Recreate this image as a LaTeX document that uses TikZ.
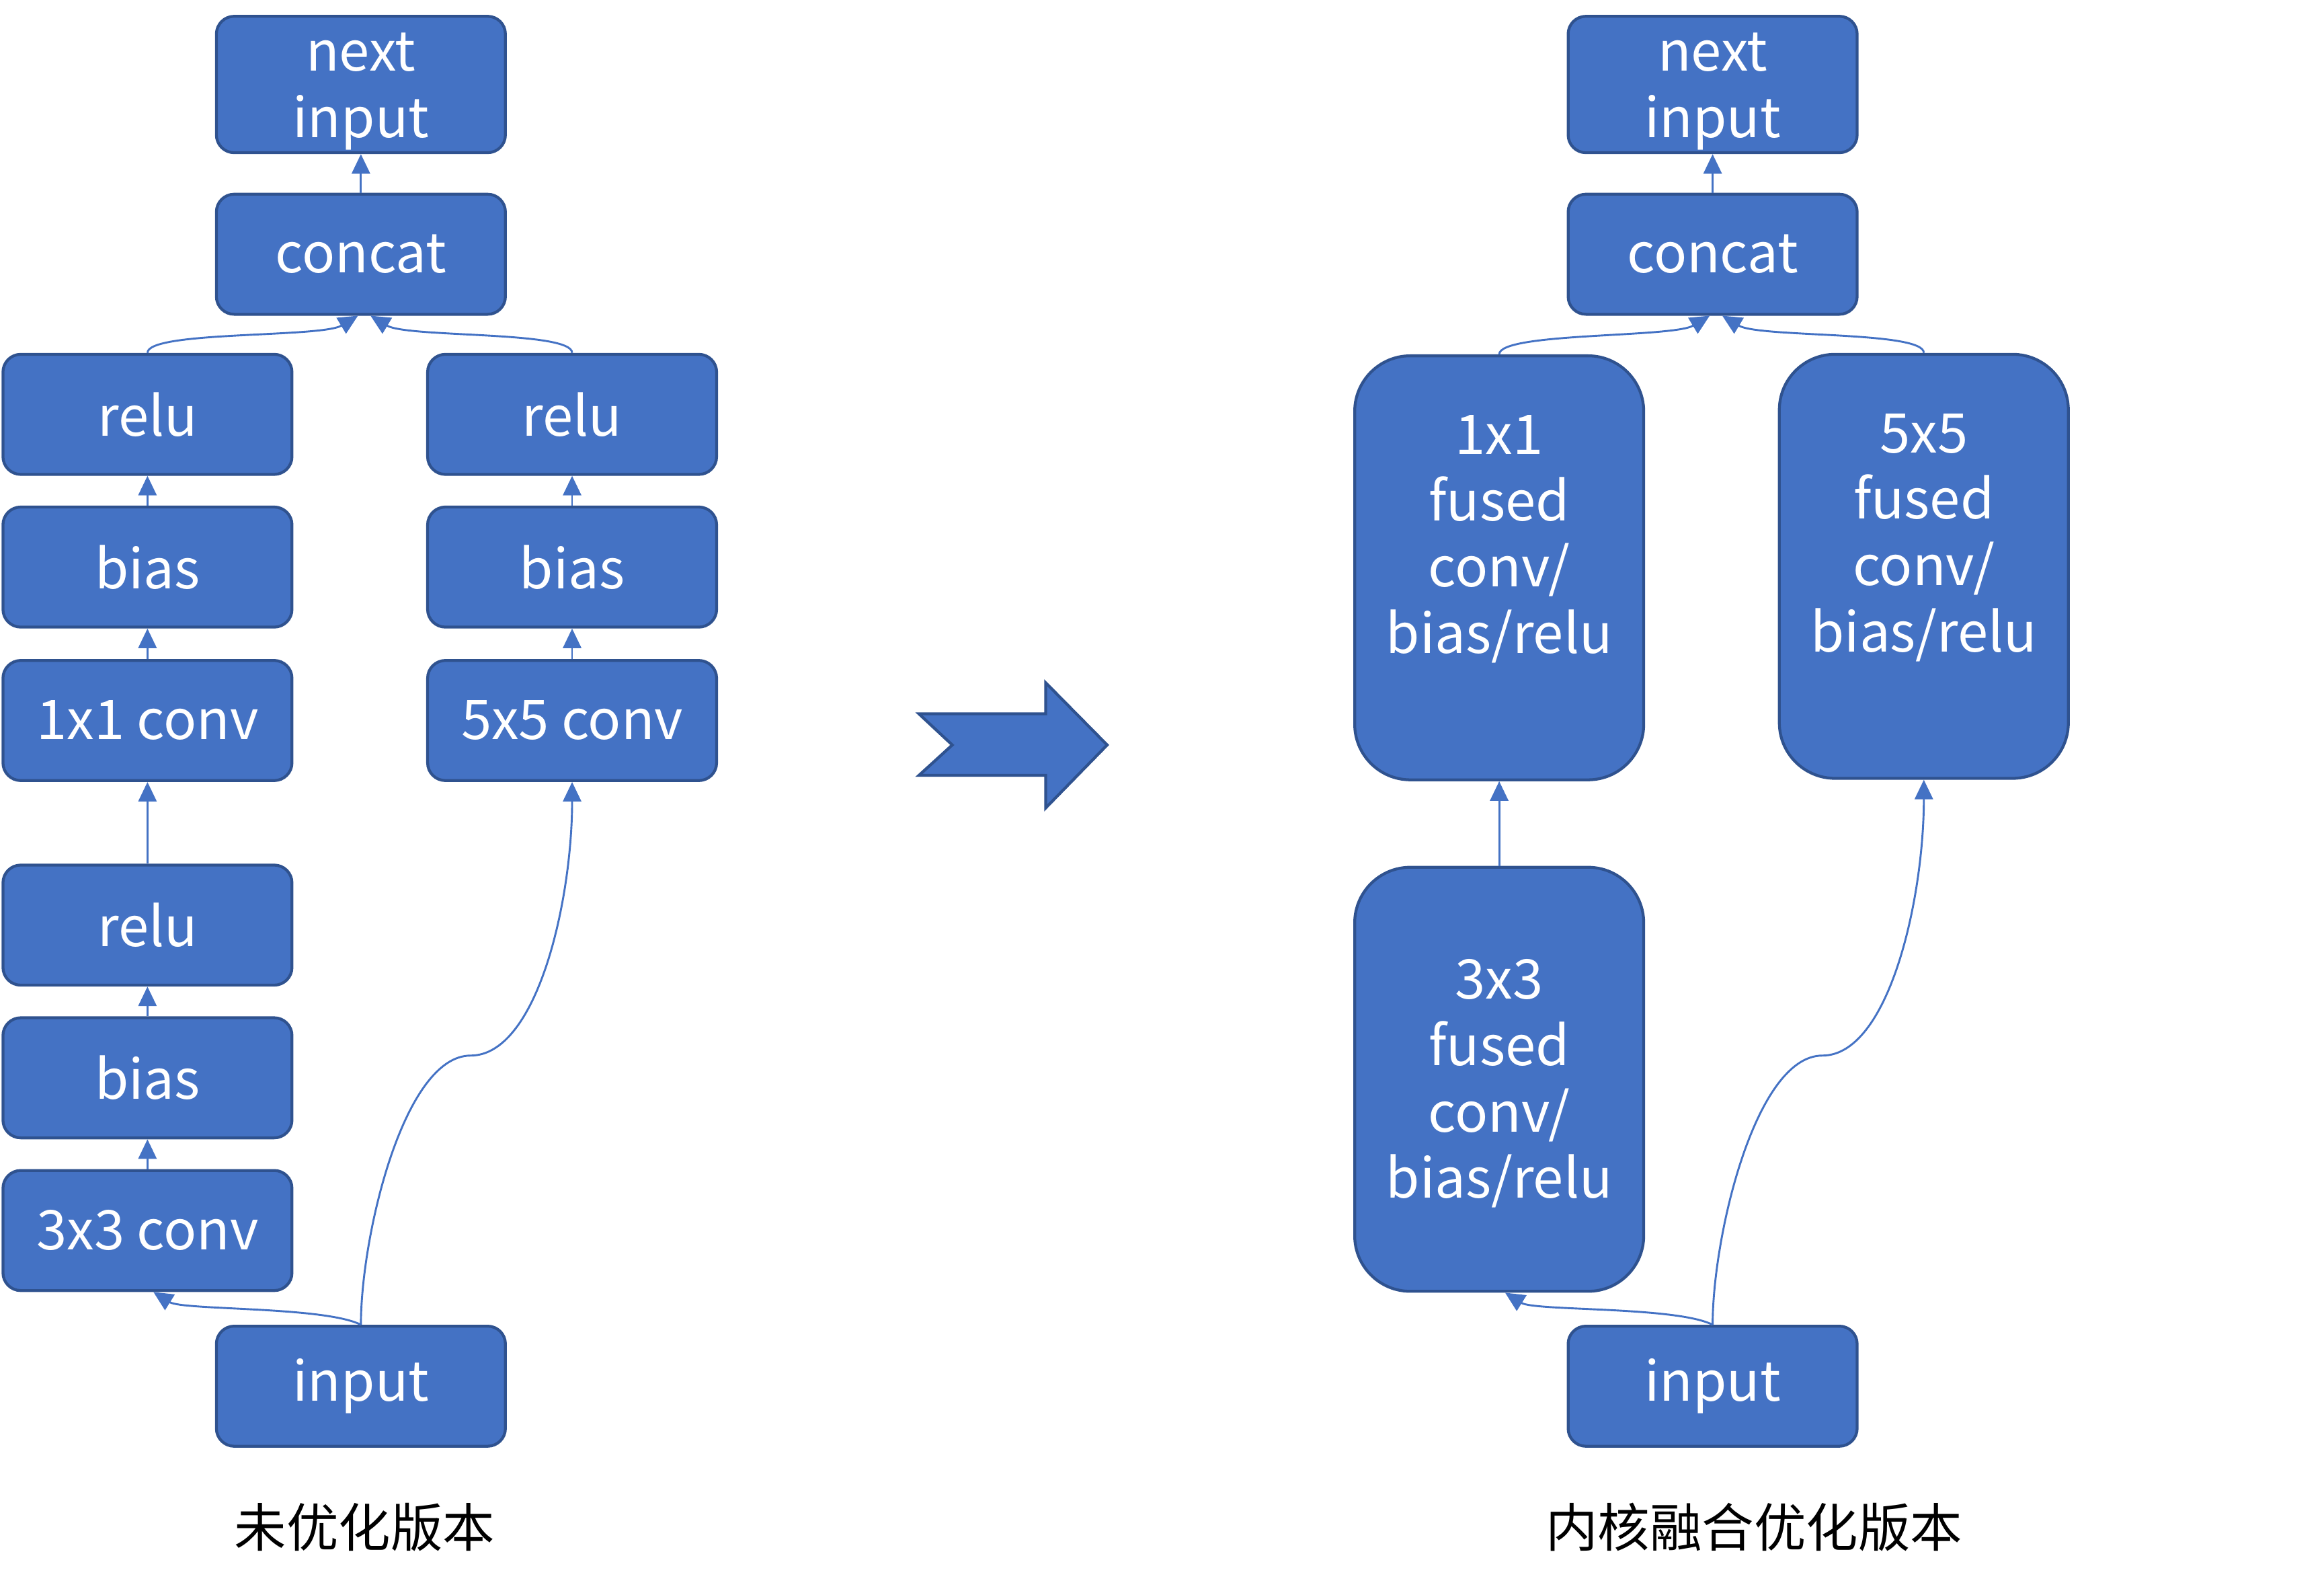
\documentclass[tikz,border=0pt]{standalone}
\usepackage{fontspec}
\setmainfont{Noto Sans CJK SC}
\usepackage{tikz}
\usetikzlibrary{arrows.meta}
\definecolor{boxblue}{HTML}{4472C4}
\definecolor{boxedge}{HTML}{2F528F}
\newcommand{\topstrut}{\rule{0pt}{22.4pt}}

\begin{document}
\begin{tikzpicture}[
    bx/.style={draw=boxedge,fill=boxblue,line width=1.1pt,rounded corners=0.24cm,
      minimum width=3.9cm,minimum height=1.62cm,inner sep=0pt,text=white,align=center,
      font=\fontsize{21}{25.5}\selectfont},
    big/.style={bx,rounded corners=0.75cm,minimum height=5.72cm},
    cn/.style={draw=boxblue,line width=0.75pt,-{Triangle[length=7.5pt,width=7pt]}},
    capt/.style={font=\fontsize{20}{24}\selectfont}]
  \useasboundingbox (0,0) rectangle (31.36,-21.46);
  % unfused version
  \node[bx,minimum height=1.84cm](nxtL) at (4.87,-1.14){\rule{0pt}{20pt}next\\input};
  \node[bx](catL) at (4.87,-3.43){concat};
  \node[bx](reluA) at (1.99,-5.59){relu};
  \node[bx](biasA) at (1.99,-7.65){bias};
  \node[bx](convA) at (1.99,-9.72){1x1 conv};
  \node[bx](reluB) at (1.99,-12.48){relu};
  \node[bx](biasB) at (1.99,-14.54){bias};
  \node[bx](convB) at (1.99,-16.60){3x3 conv};
  \node[bx](reluC) at (7.72,-5.59){relu};
  \node[bx](biasC) at (7.72,-7.65){bias};
  \node[bx](convC) at (7.72,-9.72){5x5 conv};
  \node[bx](inL) at (4.87,-18.70){input};
  \coordinate (bendL) at (6.35,-14.24);
  \node[capt](capL) at (4.92,-20.60){未优化版本};
  \draw[cn](catL)--(nxtL);
  \draw[cn](reluA.north) .. controls +(0,0.3) and +(-0.5,-0.3) .. ([xshift=-0.04cm]catL.south);
  \draw[cn](reluC.north) .. controls +(0,0.3) and +(0.5,-0.3) .. ([xshift=0.13cm]catL.south);
  \draw[cn](biasA)--(reluA);
  \draw[cn](convA)--(biasA);
  \draw[cn](reluB)--(convA);
  \draw[cn](biasB)--(reluB);
  \draw[cn](convB)--(biasB);
  \draw[cn](biasC)--(reluC);
  \draw[cn](convC)--(biasC);
  \draw[cn](inL.north) .. controls +(-0.5,0.25) and +(0.4,-0.25) .. ([xshift=0.08cm]convB.south);
  \draw[cn](inL.north) .. controls +(0,1.2) and +(-0.9,0) .. (bendL)
    .. controls +(0.9,0) and +(0,-1.6) .. (convC.south);
  % big arrow
  \draw[draw=boxedge,fill=boxblue,line width=1.1pt,line join=miter]
    (12.40,-9.63)--(14.11,-9.63)--(14.11,-9.21)--(14.94,-10.05)--(14.11,-10.90)
    --(14.11,-10.46)--(12.40,-10.46)--(12.85,-10.05)--cycle;
  % fused version
  \node[bx,minimum height=1.84cm](nxtR) at (23.11,-1.14){\rule{0pt}{20pt}next\\input};
  \node[bx](catR) at (23.11,-3.43){concat};
  \node[big](fuseA) at (20.23,-7.66){\topstrut 1x1\\fused\\conv/\\bias/relu\\\strut};
  \node[big](fuseC) at (25.96,-7.64){\topstrut 5x5\\fused\\conv/\\bias/relu\\\strut};
  \node[big](fuseB) at (20.23,-14.56){\topstrut 3x3\\fused\\conv/\\bias/relu\strut};
  \node[bx](inR) at (23.11,-18.70){input};
  \coordinate (bendR) at (24.59,-14.24);
  \node[capt](capR) at (23.67,-20.60){内核融合优化版本};
  \draw[cn](catR)--(nxtR);
  \draw[cn](fuseA.north) .. controls +(0,0.3) and +(-0.5,-0.3) .. ([xshift=-0.04cm]catR.south);
  \draw[cn](fuseC.north) .. controls +(0,0.3) and +(0.5,-0.3) .. ([xshift=0.13cm]catR.south);
  \draw[cn](fuseB)--(fuseA);
  \draw[cn](inR.north) .. controls +(-0.5,0.25) and +(0.4,-0.25) .. ([xshift=0.08cm]fuseB.south);
  \draw[cn](inR.north) .. controls +(0,1.2) and +(-0.9,0) .. (bendR)
    .. controls +(0.9,0) and +(0,-1.6) .. (fuseC.south);
\end{tikzpicture}
\end{document}
